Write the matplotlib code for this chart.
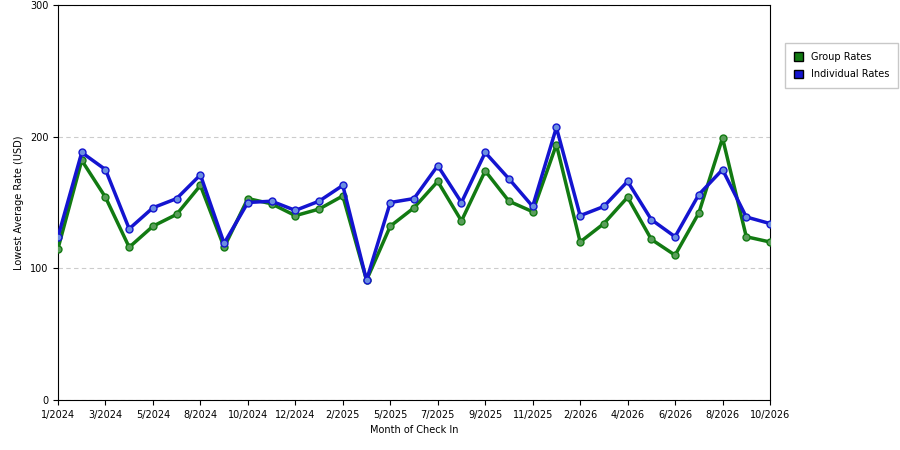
import matplotlib
matplotlib.use("Agg")
import matplotlib.pyplot as plt
from matplotlib.patches import Patch

tick_labels = ["1/2024","3/2024","5/2024","8/2024","10/2024","12/2024","2/2025","5/2025",
               "7/2025","9/2025","11/2025","2/2026","4/2026","6/2026","8/2026","10/2026"]
group = [115,182,154,116,132,141,163,116,153,149,140,145,155,91,132,146,166,136,174,151,
         143,194,120,134,154,122,110,142,199,124,120]
indiv = [124,188,175,130,146,153,171,119,150,151,144,151,163,91,150,153,178,150,188,168,
         147,207,140,147,166,137,124,156,175,139,134]

fig = plt.figure(figsize=(9,4.5), dpi=100)
ax = fig.add_axes([58/900, 1-400/450, 712/900, 395/450])
x = list(range(len(group)))
ax.plot(x, group, color="#127a12", lw=2.5, marker="o", ms=5, mfc="#5a9e5a", mec="#127a12", zorder=3)
ax.plot(x, indiv, color="#1414d0", lw=2.5, marker="o", ms=5, mfc="#6a8ee0", mec="#1414d0", zorder=4)
ax.set_xlim(0, len(group)-1)
ax.set_ylim(0, 300)
ax.set_xticks(range(0, len(group), 2))
ax.set_xticklabels(tick_labels, fontsize=7)
ax.set_yticks([0,100,200,300])
ax.tick_params(axis='y', labelsize=7)
ax.yaxis.grid(True, ls=(0,(4,3)), color="#cccccc", lw=0.8)
ax.set_axisbelow(True)
ax.set_xlabel("Month of Check In", fontsize=7)
ax.set_ylabel("Lowest Average Rate (USD)", fontsize=7)
handles = [Patch(facecolor="#127a12", edgecolor="black", label="Group Rates"),
           Patch(facecolor="#1414d0", edgecolor="black", label="Individual Rates")]
fig.legend(handles=handles, loc="upper left", bbox_to_anchor=(780/900, 1-38/450),
           fontsize=7, frameon=True, fancybox=False, edgecolor="#bbbbbb",
           handlelength=1.0, handleheight=1.0, borderpad=0.9, labelspacing=0.8)
fig.savefig("out.png", dpi=100)
